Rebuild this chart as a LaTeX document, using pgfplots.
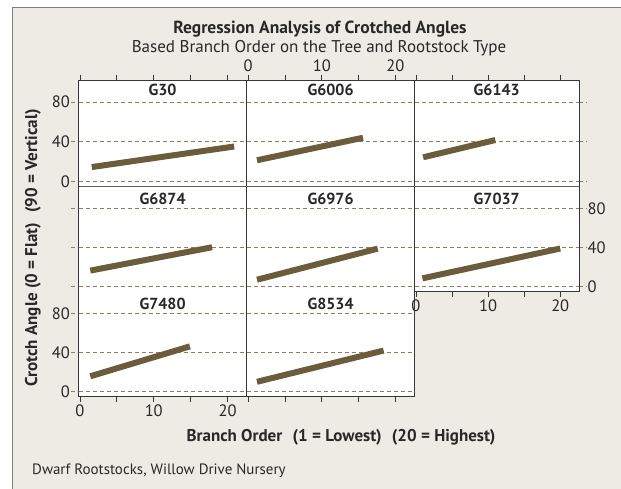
\documentclass[border=0pt]{standalone}
\usepackage{pgfplots}
\pgfplotsset{compat=1.18}
\usepackage{fontspec}
\setmainfont{PT Sans}
\definecolor{bg}{RGB}{238,235,228}
\definecolor{ln}{RGB}{107,92,59}
\definecolor{grd}{RGB}{140,128,100}
\definecolor{frm}{RGB}{55,55,55}
\definecolor{txt}{RGB}{40,40,40}
\tikzset{gst/.style={grd, dash pattern=on 4pt off 3pt, line width=0.8pt}}
\newcommand\leftext{%
\draw[gst] (axis cs:-1.2,0) -- (axis cs:-0.2,0);
\draw[gst] (axis cs:-1.2,40) -- (axis cs:-0.2,40);
\draw[gst] (axis cs:-1.2,80) -- (axis cs:-0.2,80);}
\newcommand\rightext{%
\draw[gst] (axis cs:22.6,0) -- (axis cs:23.7,0);
\draw[gst] (axis cs:22.6,40) -- (axis cs:23.7,40);
\draw[gst] (axis cs:22.6,80) -- (axis cs:23.7,80);}
\pgfplotsset{
 panel/.style={
  scale only axis, anchor=north west,
  xmin=-0.2, xmax=22.6, ymin=-5, ymax=102,
  axis line style={draw=none},
  xtick={0,5,10,15,20}, ytick={0,40,80},
  xticklabels={}, yticklabels={},
  xtick style={draw=none}, ytick style={draw=none},
  tick align=outside, major tick length=5pt,
  ymajorgrids, major grid style={gst},
  clip=false,
  title style={font=\bfseries\fontsize{16}{17}\selectfont, text=txt, at={(0.5,1)}, anchor=north, yshift=-9pt},
  ticklabel style={font=\fontsize{16.5}{17}\selectfont, text=txt},
  /pgf/number format/assume math mode=true,
 },
 topticks/.style={xtick pos=right, xtick style={draw=frm, line width=0.8pt}},
 toplabels/.style={xticklabel pos=right, xticklabels={0,,10,,20}},
 botticks/.style={xtick pos=left, xtick style={draw=frm, line width=0.8pt}},
 botlabels/.style={xticklabel pos=left, xticklabels={0,,10,,20}},
 ylab/.style={ytick pos=left, yticklabel pos=left, yticklabels={0,40,80}},
 ylabr/.style={ytick pos=right, yticklabel pos=right, yticklabels={0,40,80}},
}
\tikzset{dl/.style={ln, line width=6pt, line cap=butt}}
\begin{document}
\begin{tikzpicture}
\useasboundingbox (0,0) rectangle (621pt,-489pt);
\fill[white] (0,0) rectangle (621pt,-489pt);
\fill[bg] (12pt,-7pt) rectangle (621pt,-489pt);
\draw[gray, line width=0.8pt] (12pt,-489pt) -- (12pt,-7pt) -- (621pt,-7pt);
\fill[white] (78.5pt,-80pt) rectangle (579pt,-291.7pt);
\fill[white] (78.5pt,-291.7pt) rectangle (414.5pt,-396.7pt);
% row 1
\begin{axis}[panel, at={(78.5pt,-80pt)}, width=168.2pt, height=106.7pt, title={G30}, title style={yshift=2pt}, topticks, ylab]
\addplot[dl] coordinates {(1.6,14.7) (20.9,35.3)};
\leftext
\end{axis}
\begin{axis}[panel, at={(246.7pt,-80pt)}, width=167.8pt, height=106.7pt, title={G6006}, title style={yshift=2pt}, topticks, toplabels]
\addplot[dl] coordinates {(1.2,21.5) (15.6,44.1)};
\end{axis}
\begin{axis}[panel, at={(414.5pt,-80pt)}, width=164.5pt, height=106.7pt, title={G6143}, title style={yshift=2pt}, topticks]
\addplot[dl] coordinates {(1.0,24.5) (11.0,41.8)};
\rightext
\end{axis}
% row 2
\begin{axis}[panel, at={(78.5pt,-186.7pt)}, width=168.2pt, height=105pt, title={G6874}]
\addplot[dl] coordinates {(1.4,16.5) (17.9,40.3)};
\leftext
\end{axis}
\begin{axis}[panel, at={(246.7pt,-186.7pt)}, width=167.8pt, height=105pt, title={G6976}]
\addplot[dl] coordinates {(1.2,7.2) (17.6,38.9)};
\end{axis}
\begin{axis}[panel, at={(414.5pt,-186.7pt)}, width=164.5pt, height=105pt, title={G7037}, botticks, botlabels, ylabr]
\addplot[dl] coordinates {(0.9,8.6) (20.0,39.0)};
\rightext
\end{axis}
% row 3
\begin{axis}[panel, at={(78.5pt,-291.7pt)}, width=168.2pt, height=105pt, title={G7480}, botticks, botlabels, ylab]
\addplot[dl] coordinates {(1.4,15.8) (14.9,46.3)};
\leftext
\end{axis}
\begin{axis}[panel, at={(246.7pt,-291.7pt)}, width=167.8pt, height=105pt, title={G8534}, botticks]
\addplot[dl] coordinates {(1.2,10.2) (18.4,42.0)};
\end{axis}
% frame lines
\draw[frm, line width=0.9pt] (78.5pt,-396.7pt) -- (78.5pt,-80pt) -- (579pt,-80pt) -- (579pt,-291.7pt) -- (414.5pt,-291.7pt);
\draw[frm, line width=0.9pt] (78.5pt,-396.7pt) -- (414.5pt,-396.7pt);
\draw[frm, line width=0.9pt] (246.7pt,-80pt) -- (246.7pt,-396.7pt);
\draw[frm, line width=0.9pt] (414.5pt,-80pt) -- (414.5pt,-396.7pt);
\draw[frm!80, line width=1.4pt] (78.5pt,-186.7pt) -- (579pt,-186.7pt);
% texts
\node[font=\bfseries\fontsize{17.5}{19}\selectfont, text=txt] at (320pt,-29pt) {Regression Analysis of Crotched Angles};
\node[font=\fontsize{17}{19}\selectfont, text=txt] at (319pt,-48pt) {Based Branch Order on the Tree and Rootstock Type};
\node[rotate=90, font=\bfseries\fontsize{17}{18}\selectfont, text=txt] at (33pt,-248pt) {Crotch Angle (0 = Flat)\hspace{0.6em}(90 = Vertical)};
\node[font=\bfseries\fontsize{17}{18}\selectfont, text=txt] at (341pt,-437pt) {Branch Order\hspace{0.6em}(1 = Lowest)\hspace{0.6em}(20 = Highest)};
\node[anchor=west, font=\fontsize{15}{16}\selectfont, text=txt, inner sep=0pt] at (32pt,-470.7pt) {Dwarf Rootstocks, Willow Drive Nursery};
\end{tikzpicture}
\end{document}
